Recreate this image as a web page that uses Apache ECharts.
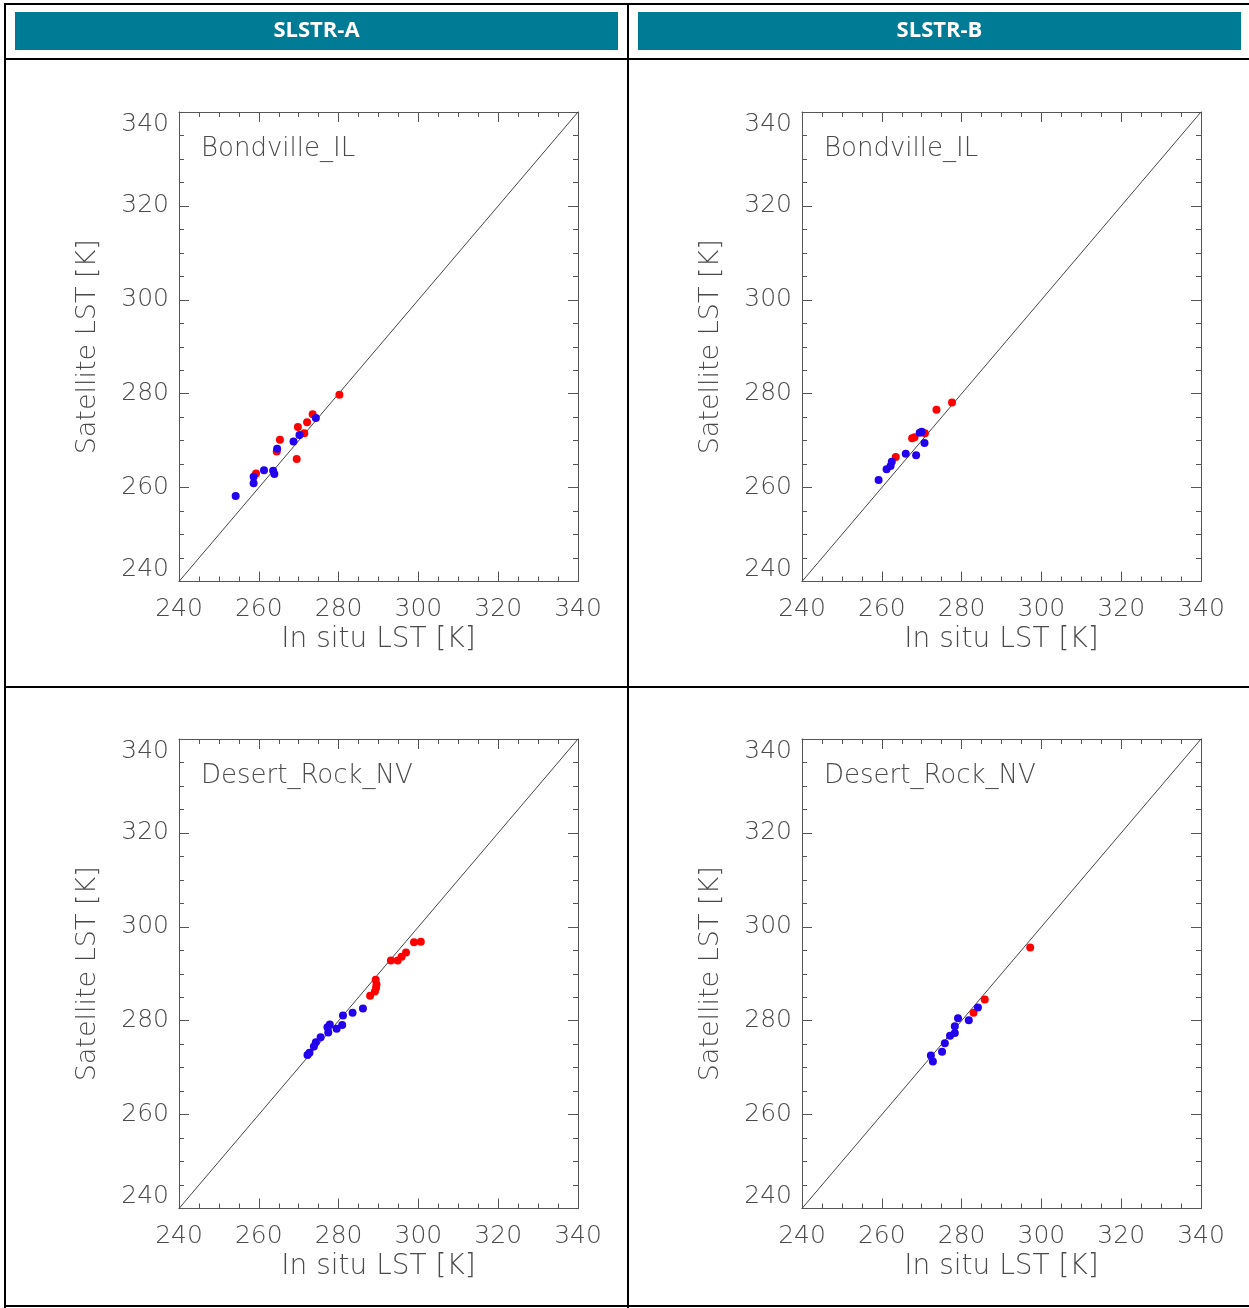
<!DOCTYPE html>
<html><head><meta charset="utf-8">
<script src="https://cdn.jsdelivr.net/npm/echarts@6/dist/echarts.min.js"></script>
<style>html,body{margin:0;padding:0;background:#fff}#c{width:1249px;height:1308px}</style>
</head><body><div id="c"></div>
<script>
// ---------- DATA ----------
const tickValues = [240, 260, 280, 300, 320, 340];
const headers = ['SLSTR-A', 'SLSTR-B'];
const sites = ['Bondville_IL', 'Desert_Rock_NV'];
const xAxisTitle = 'In situ LST [K]';
const yAxisTitle = 'Satellite LST [K]';

// [in situ LST, satellite LST]
const bondvilleA_red = [[280.2,279.8],[273.5,275.6],[272.1,273.9],[269.8,272.9],[271.4,271.6],[265.3,270.2],[264.5,267.7],[269.5,266.1],[259.3,263.0]];
const bondvilleA_blue = [[274.3,274.8],[270.2,271.2],[268.7,269.8],[264.6,268.3],[261.3,263.7],[263.6,263.6],[263.9,262.9],[258.7,262.3],[258.7,260.9],[254.2,258.2]];

const bondvilleB_red = [[277.6,278.1],[273.7,276.6],[270.8,271.6],[268.2,270.7],[267.6,270.5],[263.5,266.5]];
const bondvilleB_blue = [[270.0,271.9],[269.5,271.7],[270.7,269.5],[266.0,267.2],[268.6,266.9],[262.5,265.5],[262.2,264.6],[261.2,263.9],[259.2,261.6]];

const desertA_red = [[300.6,296.8],[298.9,296.7],[296.9,294.5],[295.8,293.6],[294.8,292.8],[293.1,292.8],[289.3,288.7],[289.5,287.7],[289.4,287.0],[289.1,286.2],[287.9,285.3]];
const desertA_blue = [[286.1,282.6],[283.5,281.7],[281.1,281.1],[280.9,279.1],[279.5,278.3],[277.8,279.2],[277.2,278.6],[277.4,277.5],[275.5,276.5],[274.3,275.4],[273.8,274.5],[272.7,273.2],[272.2,272.7]];

const desertB_red = [[297.2,295.6],[285.8,284.5],[283.0,281.7]];
const desertB_blue = [[284.1,282.8],[281.8,280.1],[279.1,280.5],[278.3,278.8],[278.3,277.4],[277.1,276.8],[275.8,275.2],[275.1,273.4],[272.3,272.6],[272.8,271.3]];

const panels = [
  { row: 0, col: 0, site: sites[0], red: bondvilleA_red, blue: bondvilleA_blue },
  { row: 0, col: 1, site: sites[0], red: bondvilleB_red, blue: bondvilleB_blue },
  { row: 1, col: 0, site: sites[1], red: desertA_red, blue: desertA_blue },
  { row: 1, col: 1, site: sites[1], red: desertB_red, blue: desertB_blue }
];

// ---------- LAYOUT / STYLE ----------
const AX_MIN = tickValues[0], AX_MAX = tickValues[tickValues.length - 1];
const AX_INT = tickValues[1] - tickValues[0];
const FONT = 'DejaVu Sans';
const TXT = '#4a4a4a';
const AXC = '#555555';
const GW = 399, GH = 469.5;
const gridLeft = [179, 802];
const gridTop = [112, 739];

const grids = [], xAxes = [], yAxes = [], series = [], graphics = [];

panels.forEach((p, i) => {
  const left = gridLeft[p.col], top = gridTop[p.row];
  grids.push({ left: left, top: top, width: GW, height: GH, outerBoundsMode: 'none', containLabel: false });
  const tickCommon = {
    axisLine: { show: true, onZero: false, lineStyle: { color: AXC, width: 1 } },
    axisTick: { show: true, inside: true, length: 10, lineStyle: { color: AXC, width: 1 } },
    minorTick: { show: true, splitNumber: 4, length: 5, lineStyle: { color: AXC, width: 1 } },
    splitLine: { show: false }, minorSplitLine: { show: false }
  };
  xAxes.push(Object.assign({
    gridIndex: i, type: 'value', min: AX_MIN, max: AX_MAX, interval: AX_INT, position: 'bottom',
    axisLabel: { show: true, margin: 15, fontFamily: FONT, fontWeight: 200, fontSize: 25, color: TXT },
    name: xAxisTitle, nameLocation: 'middle', nameGap: 44,
    nameTextStyle: { fontFamily: FONT, fontWeight: 200, fontSize: 28, color: TXT }
  }, tickCommon));
  xAxes.push(Object.assign({
    gridIndex: i, type: 'value', min: AX_MIN, max: AX_MAX, interval: AX_INT, position: 'top',
    axisLabel: { show: false }
  }, tickCommon));
  yAxes.push(Object.assign({
    gridIndex: i, type: 'value', min: AX_MIN, max: AX_MAX, interval: AX_INT, position: 'left',
    axisLabel: { show: true, margin: 10, fontFamily: FONT, fontWeight: 200, fontSize: 25, color: TXT,
                 verticalAlignMinLabel: 'bottom', verticalAlignMaxLabel: 'top' },
    name: yAxisTitle, nameLocation: 'middle', nameGap: 78, nameRotate: 90,
    nameTextStyle: { fontFamily: FONT, fontWeight: 200, fontSize: 27, color: TXT }
  }, tickCommon));
  yAxes.push(Object.assign({
    gridIndex: i, type: 'value', min: AX_MIN, max: AX_MAX, interval: AX_INT, position: 'right',
    axisLabel: { show: false }
  }, tickCommon));

  series.push({
    type: 'line', xAxisIndex: 2 * i, yAxisIndex: 2 * i,
    data: [[AX_MIN, AX_MIN], [AX_MAX, AX_MAX]], symbol: 'none', silent: true,
    lineStyle: { color: '#444', width: 1 }, z: 1
  });
  series.push({
    type: 'scatter', xAxisIndex: 2 * i, yAxisIndex: 2 * i, data: p.red,
    symbol: 'circle', symbolSize: 8, itemStyle: { color: '#ff0000', opacity: 1 }, z: 2
  });
  series.push({
    type: 'scatter', xAxisIndex: 2 * i, yAxisIndex: 2 * i, data: p.blue,
    symbol: 'circle', symbolSize: 8, itemStyle: { color: '#2200ee', opacity: 1 }, z: 3
  });

  graphics.push({
    type: 'text', left: left + 22, top: top + 24,
    style: { text: p.site, fontFamily: FONT, fontWeight: 200, fontSize: 26, fill: TXT }
  });
});

// table frame
const LC = '#000', LW = 2;
[[4, 4, 1249, 4], [5, 59, 1249, 59], [5, 687, 1249, 687], [5, 1306, 1249, 1306],
 [5, 3, 5, 1308], [628, 3, 628, 1308]].forEach(s => {
  graphics.push({ type: 'line', shape: { x1: s[0], y1: s[1], x2: s[2], y2: s[3] },
                  style: { stroke: LC, lineWidth: LW }, silent: true });
});
// headers
[[15, 618], [638, 1241]].forEach((b, k) => {
  graphics.push({ type: 'rect', shape: { x: b[0], y: 12, width: b[1] - b[0], height: 38 },
                  style: { fill: '#007b95' }, silent: true });
  graphics.push({ type: 'text', x: (b[0] + b[1]) / 2, y: 31,
                  style: { text: headers[k], fontFamily: 'Open Sans', fontWeight: 'bold', fontSize: 22,
                           fill: '#ffffff', align: 'center', verticalAlign: 'middle' } });
});

const chart = echarts.init(document.getElementById('c'), null, { renderer: 'canvas' });
chart.setOption({
  animation: false,
  backgroundColor: '#ffffff',
  grid: grids, xAxis: xAxes, yAxis: yAxes, series: series,
  graphic: graphics
});
</script></body></html>
